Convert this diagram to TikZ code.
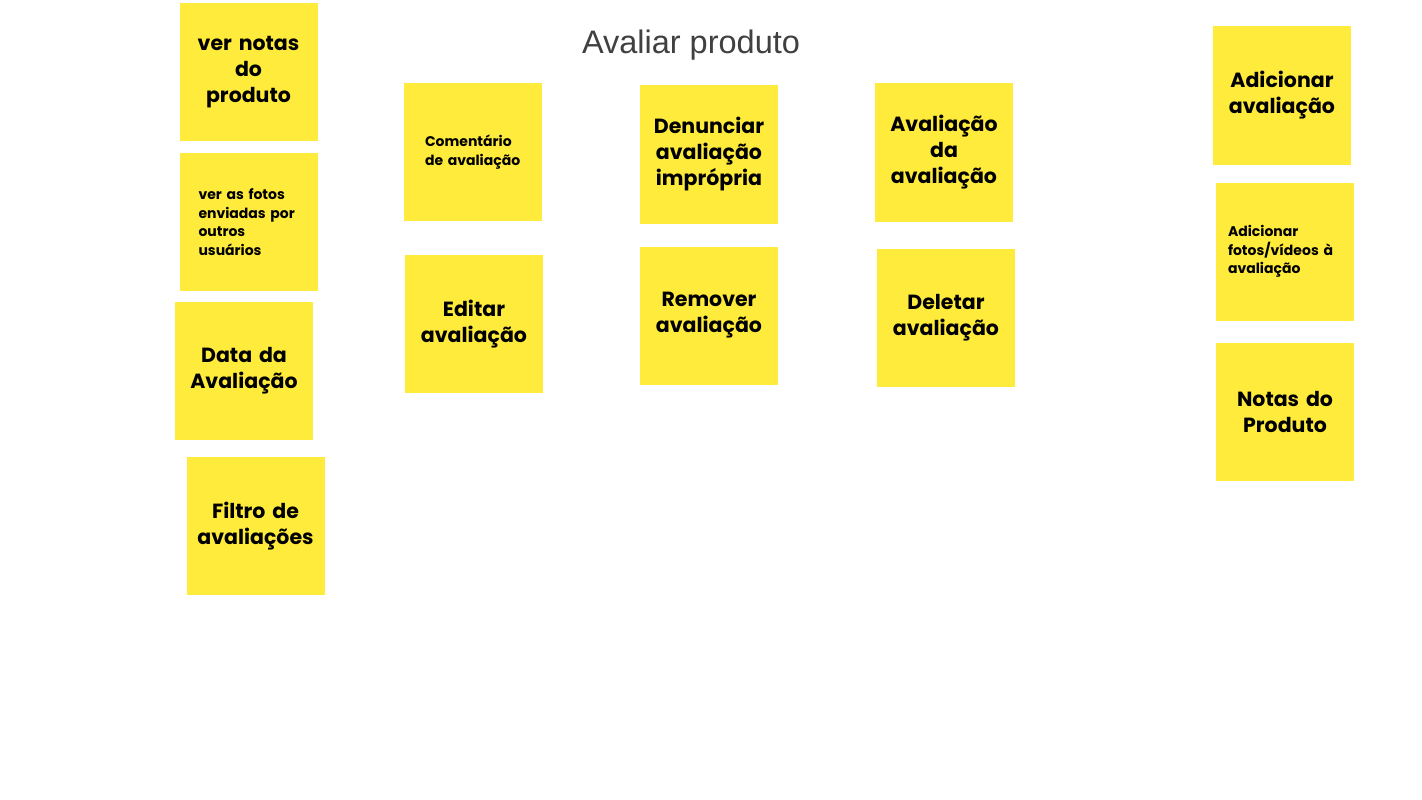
\documentclass[tikz,border=0pt]{standalone}
\usepackage{fontspec}
\setmainfont{Poppins}
\newfontfamily\titlefont{Liberation Sans}
\definecolor{noteyellow}{RGB}{255,235,59}
\definecolor{titlegray}{RGB}{64,64,64}

\begin{document}
\begin{tikzpicture}[x=1pt,y=-1pt,
    note/.style={fill=noteyellow, minimum width=138pt, minimum height=138pt, inner sep=0pt,
        align=center, text width=130pt, font=\fontsize{20.5}{26}\selectfont\bfseries},
    smallnote/.style={note, align=left, font=\fontsize{14}{18.5}\selectfont\bfseries}]
    \useasboundingbox (0,0) rectangle (1422,800);

    % Define the positions of the notes
    \coordinate (notasPos) at (248.5, 72);
    \coordinate (fotosPos) at (248.5, 222);
    \coordinate (dataPos) at (244, 370.5);
    \coordinate (filtroPos) at (255.5, 526);
    \coordinate (comentPos) at (473, 152);
    \coordinate (editarPos) at (474, 324);
    \coordinate (denunPos) at (709, 154.5);
    \coordinate (removerPos) at (709, 315.5);
    \coordinate (avalPos) at (944, 152.5);
    \coordinate (deletarPos) at (946, 317.5);
    \coordinate (addPos) at (1282, 95.5);
    \coordinate (addFotosPos) at (1285, 251.5);
    \coordinate (prodPos) at (1285, 411.5);

    % Draw the title
    \node[font=\titlefont\fontsize{32.5}{38}\selectfont, text=titlegray] (title) at (691, 45) {Avaliar produto};

    % Draw the notes
    \node[note] (verNotas) at (notasPos) {ver notas\\do\\produto};
    \node[smallnote, text width=100pt] (verFotos) at (fotosPos) {ver as fotos\\enviadas por\\outros\\usuários};
    \node[note] (data) at (dataPos) {Data da\\Avaliação};
    \node[note] (filtro) at (filtroPos) {Filtro de\\avaliações};
    \node[smallnote, text width=96pt] (coment) at (comentPos) {Comentário\\de avaliação};
    \node[note] (editar) at (editarPos) {Editar\\avaliação};
    \node[note] (denunciar) at (denunPos) {Denunciar\\avaliação\\imprópria};
    \node[note] (remover) at (removerPos) {Remover\\avaliação};
    \node[note] (avalAval) at (avalPos) {Avaliação\\da\\avaliação};
    \node[note] (deletar) at (deletarPos) {Deletar\\avaliação};
    \node[note] (adicionar) at (addPos) {Adicionar\\avaliação};
    \node[smallnote, text width=114pt] (addFotos) at (addFotosPos) {Adicionar\\fotos/vídeos à\\avaliação};
    \node[note] (notasProd) at (prodPos) {Notas do\\Produto};
\end{tikzpicture}
\end{document}
